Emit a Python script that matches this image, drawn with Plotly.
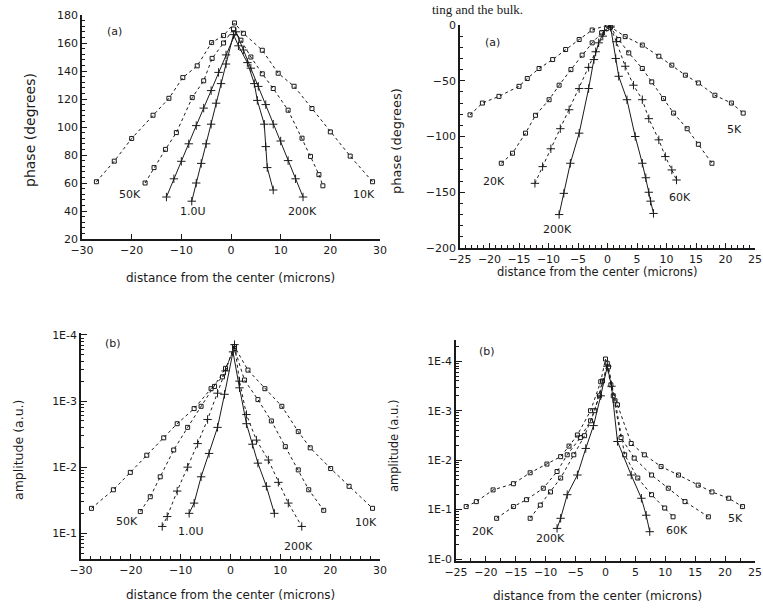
import math
import plotly.graph_objects as go

W, H = 763, 612

# ---------------- data: top-left, phase (degrees) ----------------
tl_x_10K = [-27.1, -23.5, -20.0, -15.7, -12.5, -9.7, -6.8, -3.9, -1.5, 0.7, 2.5, 6.3, 9.5, 12.7, 16.3, 20.0, 24.0, 28.5]
tl_y_10K = [60.9, 75.6, 91.8, 108.4, 120.5, 135.3, 143.7, 160.3, 165.3, 174.3, 166.9, 154.8, 138.4, 129.1, 113.2, 96.5, 79.2, 60.9]
tl_x_50K = [-17.3, -15.5, -13.2, -11.0, -7.8, -5.5, -3.8, -1.5, 0.5, 2.0, 4.0, 6.3, 8.5, 11.5, 14.3, 16.0, 17.7, 18.5]
tl_y_50K = [60, 71, 84, 96, 121, 133, 149, 160, 170, 162, 150, 138, 127.5, 112, 92, 79, 66, 58]
tl_x_3 = [-13.0, -11.5, -10.0, -8.5, -7.0, -5.5, -4.0, -2.5, -1.0, 1.0, 2.5, 4.0, 5.5, 7.0, 8.5, 10.0, 11.5, 13.0, 14.5]
tl_y_3 = [50, 63, 75.5, 88, 101, 113.5, 126, 139, 151.5, 168, 155, 142, 129, 116, 102, 90, 76, 63, 50]
tl_x_4 = [-7.9, -7.0, -6.0, -5.0, -4.0, -3.0, -2.0, -1.0, 0.5, 1.5, 3.3, 4.7, 5.3, 6.7, 7.0, 7.3, 8.5]
tl_y_4 = [47, 60, 74, 88, 102, 117, 131, 145, 166, 158, 146, 131, 119, 102, 86, 71, 55]

# ---------------- data: top-right, phase (degrees) ----------------
tr_x_5K = [-23.3, -21.2, -18.4, -15.0, -13.6, -11.6, -9.3, -7.1, -4.8, -2.6, 0.0, 3.0, 5.9, 8.7, 10.9, 13.2, 15.4, 18.2, 21.0, 23.0]
tr_y_5K = [-80.6, -70, -64, -55, -48, -39, -31, -22, -13, -4.5, 0, -10.4, -18, -28, -36, -45, -52, -63, -70, -79]
tr_x_20K = [-18.0, -16.1, -13.9, -12.2, -9.9, -8.2, -6.2, -4.3, -2.6, -1.0, 0.5, 1.9, 3.6, 5.9, 7.5, 9.5, 11.2, 13.5, 15.4, 17.7]
tr_y_20K = [-124, -115, -97, -81, -67, -54, -40, -27, -16, -7, -2, -13, -25, -39, -51, -66, -79, -93, -107, -124]
tr_x_60K = [-12.3, -11.0, -9.6, -8.0, -6.5, -4.8, -3.2, -2.0, -0.8, 0.5, 1.5, 3.0, 4.4, 5.9, 7.0, 8.7, 9.8, 10.9, 11.7]
tr_y_60K = [-142, -127, -111, -93, -76, -57, -38, -24, -10, -2, -15, -37, -54, -67, -84, -103, -118, -130, -139]
tr_x_200K = [-8.2, -7.4, -6.3, -4.8, -3.2, -2.3, -1.5, -0.5, 0.5, 1.4, 1.9, 3.3, 4.7, 5.9, 6.5, 7.0, 7.3, 7.8]
tr_y_200K = [-170, -151, -124, -97, -57, -31, -16, -5, -1, -30, -46, -67, -100, -124, -137, -150, -158, -169]

# ---------------- data: bottom-left, amplitude (a.u.) ----------------
bl_x_10K = [-27.9, -23.5, -20.1, -16.8, -13.4, -10.7, -7.3, -3.9, -1.6, 0.8, 3.5, 6.9, 10.3, 13.6, 16.0, 20.1, 23.8, 28.5]
bl_a_10K = [4.2e-2, 2.2e-2, 1.2e-2, 6.6e-3, 3.6e-3, 2.2e-3, 1.3e-3, 6.5e-4, 4.3e-4, 1.5e-4, 3.4e-4, 6.5e-4, 1.2e-3, 2.9e-3, 5.1e-3, 1.05e-2, 1.95e-2, 4.2e-2]
bl_x_50K = [-18.1, -16.1, -14.1, -11.4, -8.6, -5.9, -3.2, -1.0, 0.8, 2.8, 5.5, 8.2, 11.0, 13.6, 15.7, 18.7]
bl_a_50K = [4.7e-2, 2.8e-2, 1.4e-2, 5.5e-3, 2.5e-3, 1.2e-3, 6.0e-4, 3.2e-4, 1.6e-4, 4.8e-4, 9.5e-4, 2.0e-3, 4.9e-3, 1.1e-2, 2.2e-2, 4.5e-2]
bl_x_3 = [-13.7, -12.7, -10.7, -8.6, -6.6, -4.6, -2.6, -1.0, 0.8, 1.8, 3.2, 5.2, 7.6, 9.6, 11.6, 14.3]
bl_a_3 = [7.9e-2, 5.6e-2, 2.3e-2, 1.0e-2, 4.4e-3, 1.9e-3, 7.6e-4, 3.5e-4, 1.4e-4, 5.0e-4, 1.6e-3, 3.9e-3, 7.8e-3, 1.7e-2, 3.5e-2, 7.9e-2]
bl_x_4 = [-8.3, -7.3, -5.9, -4.3, -2.6, -1.2, 0.5, 1.8, 3.2, 4.4, 5.5, 7.2, 8.8]
bl_a_4 = [5.0e-2, 3.5e-2, 1.4e-2, 6.2e-3, 2.5e-3, 7.9e-4, 1.8e-4, 6.3e-4, 2.2e-3, 4.5e-3, 8.7e-3, 1.95e-2, 5.0e-2]

# ---------------- data: bottom-right, amplitude (a.u.) ----------------
br_x_5K = [-23.3, -21.6, -18.8, -15.4, -12.6, -9.8, -7.5, -6.1, -4.7, -2.5, -0.8, 0.0, 0.9, 2.0, 4.3, 6.5, 9.3, 12.2, 15.5, 17.8, 20.6, 22.9]
br_a_5K = [8.7e-2, 6.9e-2, 4.0e-2, 3.0e-2, 1.8e-2, 1.2e-2, 8.5e-3, 5.2e-3, 3.1e-3, 1.0e-3, 2.6e-4, 9.0e-5, 3.0e-4, 7.6e-4, 4.6e-3, 7.8e-3, 1.35e-2, 2.0e-2, 3.2e-2, 4.4e-2, 5.9e-2, 8.7e-2]
br_x_20K = [-18.2, -15.4, -13.2, -10.4, -8.1, -6.4, -4.2, -2.5, -1.0, 0.3, 1.3, 2.6, 4.8, 7.7, 10.5, 13.3, 17.2]
br_a_20K = [0.15, 8.7e-2, 6.3e-2, 3.7e-2, 1.7e-2, 7.8e-3, 3.5e-3, 1.6e-3, 5.0e-4, 1.1e-4, 5.0e-4, 3.5e-3, 9.1e-3, 2.0e-2, 3.7e-2, 6.9e-2, 0.14]
br_x_60K = [-12.6, -10.9, -9.2, -7.5, -5.3, -3.5, -1.8, -0.5, 0.5, 1.6, 3.2, 5.4, 7.7, 9.9, 11.3]
br_a_60K = [0.15, 8.1e-2, 4.4e-2, 2.3e-2, 7.8e-3, 3.2e-3, 1.0e-3, 2.5e-4, 1.3e-4, 6.3e-4, 7.8e-3, 2.3e-2, 5.0e-2, 9.3e-2, 0.14]
br_x_200K = [-8.1, -7.5, -6.4, -4.7, -3.3, -2.0, -0.8, 0.3, 1.0, 2.0, 4.3, 6.0, 6.8, 7.4]
br_a_200K = [0.24, 0.15, 5.0e-2, 2.0e-2, 5.8e-3, 2.0e-3, 5.0e-4, 1.26e-4, 3.2e-4, 4.2e-3, 2.0e-2, 5.9e-2, 0.13, 0.28]

# ---------------- text labels ----------------
tl_labels = [("50K", -20.3, 52), ("1.0U", -7.7, 39.5), ("200K", 14.3, 39.5), ("10K", 26.7, 52), ("(a)", -23.5, 168)]
tr_labels = [("5K", 21.6, -94), ("20K", -19.2, -140), ("60K", 12.3, -155), ("200K", -8.5, -183.6), ("(a)", -19.5, -16)]
bl_labels = [("50K", -20.8, 0.066), ("1.0U", -8.0, 0.095), ("200K", 13.6, 0.16), ("10K", 27.2, 0.07), ("(b)", -23.5, 1.35e-4)]
br_labels = [("20K", -20.5, 0.28), ("200K", -9.2, 0.38), ("60K", 11.9, 0.26), ("5K", 21.7, 0.15), ("(b)", -19.9, 6.3e-5)]

amp_ticks = [1e-4, 1e-3, 1e-2, 1e-1]
amp_ticktext = ["1E-4", "1E-3", "1E-2", "1E-1"]
amp_ticks_br = [1e-4, 1e-3, 1e-2, 1e-1, 1.0]
amp_ticktext_br = ["1E-4", "1E-3", "1E-2", "1E-1", "1E-0"]

x_title = "distance from the center (microns)"
phase_title = "phase (degrees)"
amp_title = "amplitude (a.u.)"
caption = "ting and the bulk."

INK = "#1a1a1a"
FONT = "DejaVu Sans"

fig = go.Figure()


def add(xs, ys, ax, sym, dash):
    fig.add_trace(go.Scatter(
        x=xs, y=ys, xaxis="x" + ax, yaxis="y" + ax, mode="lines+markers",
        line=dict(color=INK, width=1, dash=dash),
        marker=dict(symbol=sym, size=4 if sym == "square-open" else 6, color=INK,
                    line=dict(color=INK, width=1)),
        showlegend=False, hoverinfo="x+y"))


SQ, PL = "square-open", "cross-thin-open"
add(tl_x_10K, tl_y_10K, "", SQ, "dot")
add(tl_x_50K, tl_y_50K, "", SQ, "dot")
add(tl_x_3, tl_y_3, "", PL, "solid")
add(tl_x_4, tl_y_4, "", PL, "solid")
add(tr_x_5K, tr_y_5K, "2", SQ, "dot")
add(tr_x_20K, tr_y_20K, "2", SQ, "dot")
add(tr_x_60K, tr_y_60K, "2", PL, "dot")
add(tr_x_200K, tr_y_200K, "2", PL, "solid")
add(bl_x_10K, bl_a_10K, "3", SQ, "dot")
add(bl_x_50K, bl_a_50K, "3", SQ, "dot")
add(bl_x_3, bl_a_3, "3", PL, "dot")
add(bl_x_4, bl_a_4, "3", PL, "solid")
add(br_x_5K, br_a_5K, "4", SQ, "dot")
add(br_x_20K, br_a_20K, "4", SQ, "dot")
add(br_x_60K, br_a_60K, "4", SQ, "dot")
add(br_x_200K, br_a_200K, "4", PL, "solid")


def px(p):
    return p / W


def py(p):
    return 1 - p / H


def dom_x(a, b):
    return [px(a), px(b)]


def dom_y(top, bottom):
    return [py(bottom), py(top)]


tickfont = dict(family=FONT, size=11, color=INK)


def base_axis(dom, anchor):
    return dict(domain=dom, anchor=anchor, automargin=False,
                showline=True, linecolor=INK, linewidth=1.5, mirror=False,
                ticks="inside", ticklen=5, tickwidth=1, tickcolor=INK,
                showgrid=False, zeroline=False, tickfont=tickfont)


def lin_axis(dom, rng, dtick, minor_dtick, anchor):
    d = base_axis(dom, anchor)
    d.update(range=rng, dtick=dtick, tick0=0)
    if minor_dtick:
        d["minor"] = dict(ticks="inside", ticklen=3, dtick=minor_dtick, tickcolor=INK)
    return d


minor_log = [1e-5 * 10 ** k / m for k in range(0, 6) for m in range(2, 10)]


def log_axis(dom, rng, tv, tt, anchor):
    d = base_axis(dom, anchor)
    d.update(type="log", range=rng, tickvals=tv, ticktext=tt, ticklen=6,
             minor=dict(ticks="inside", ticklen=3, tickvals=minor_log, tickcolor=INK))
    return d


fig.update_layout(
    width=W, height=H, margin=dict(l=0, r=0, t=0, b=0, autoexpand=False),
    paper_bgcolor="white", plot_bgcolor="white", showlegend=False,
    xaxis=lin_axis(dom_x(82, 380), [-30, 30], 10, None, "y"),
    yaxis=lin_axis(dom_y(15, 239), [20, 180], 20, 4, "x"),
    xaxis2=lin_axis(dom_x(460, 755), [-25, 25], 5, 1, "y2"),
    yaxis2=lin_axis(dom_y(25, 248), [-200, 0], 50, 10, "x2"),
    xaxis3=lin_axis(dom_x(81, 380), [-30, 30], 10, 2, "y3"),
    yaxis3=log_axis(dom_y(333, 559), [-0.61, -4.03], amp_ticks, amp_ticktext, "x3"),
    xaxis4=lin_axis(dom_x(456, 755), [-25, 25], 5, 2.5, "y4"),
    yaxis4=log_axis(dom_y(340, 561), [0.04, -4.43], amp_ticks_br, amp_ticktext_br, "x4"),
)

annots = []
for lab, ax, islog in [(tl_labels, "", False), (tr_labels, "2", False), (bl_labels, "3", True), (br_labels, "4", True)]:
    for t, x, y in lab:
        annots.append(dict(text=t, x=x, y=math.log10(y) if islog else y, xref="x" + ax, yref="y" + ax,
                           showarrow=False, font=dict(family=FONT, size=11, color=INK)))

# axis titles (placed in paper pixels)
titles = [
    (x_title, 230, 278, 0, 12), (phase_title, 30, 130, -90, 14),
    (x_title, 597, 272, 0, 11.5), (phase_title, 397, 141, -90, 13),
    (x_title, 230, 595, 0, 12), (amp_title, 18, 450, -90, 12.5),
    (x_title, 597, 596, 0, 12), (amp_title, 394, 446, -90, 11.5),
]
for t, x, y, ang, s in titles:
    annots.append(dict(text=t, x=px(x), y=py(y), xref="paper", yref="paper", textangle=ang,
                       xanchor="center", yanchor="middle", showarrow=False,
                       font=dict(family=FONT, size=s, color=INK)))

annots.append(dict(text=caption, x=px(525), y=1, xref="paper", yref="paper",
                   xanchor="right", yanchor="top", showarrow=False,
                   font=dict(family="Liberation Serif", size=13, color=INK)))
fig.update_layout(annotations=annots)

fig.write_html("out.html", config={"displayModeBar": False},
               post_script="document.body.style.margin='0';document.body.style.overflow='hidden';")
